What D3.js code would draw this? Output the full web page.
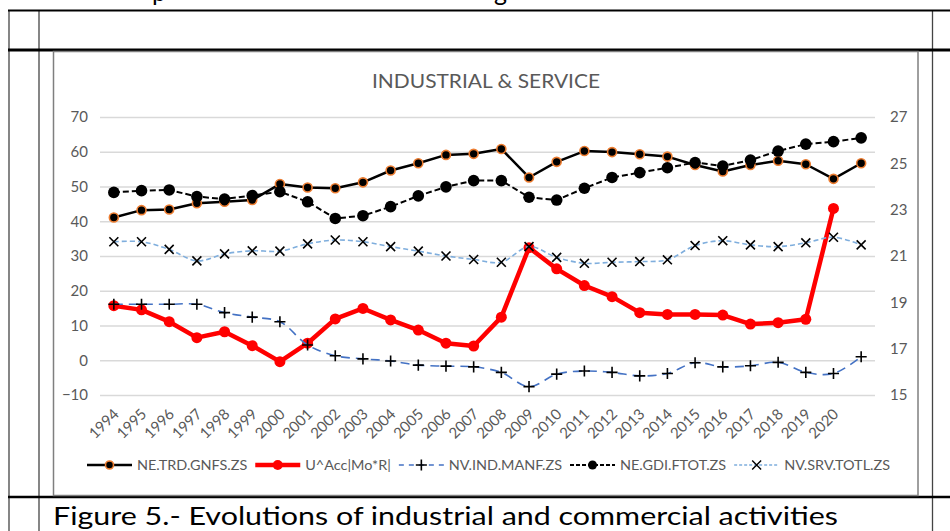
<!DOCTYPE html>
<html>
<head>
<meta charset="utf-8">
<script src="https://cdn.jsdelivr.net/npm/d3@7"></script>
<style>
  html, body { margin: 0; padding: 0; background: #fff; }
  svg { display: block; }
  text { font-family: Lato, "Open Sans", sans-serif; }
</style>
</head>
<body>
<svg id="chart" width="950" height="531"></svg>
<script>
// ---------- data ----------
const categories = ["1994","1995","1996","1997","1998","1999","2000","2001","2002","2003",
  "2004","2005","2006","2007","2008","2009","2010","2011","2012","2013","2014","2015",
  "2016","2017","2018","2019","2020",""];

const trdGnfs = [41.1,43.2,43.4,45.2,45.6,46.1,50.7,49.7,49.5,51.2,54.6,56.7,59.1,59.4,60.8,
  52.6,57.1,60.2,59.9,59.3,58.6,56.2,54.3,56.2,57.4,56.4,52.2,56.7];
const uAcc = [15.7,14.5,11.1,6.5,8.2,4.2,-0.4,4.9,11.9,14.9,11.6,8.7,4.9,4.1,12.4,
  32.4,26.3,21.5,18.3,13.7,13.2,13.2,13.0,10.4,10.8,11.8,43.7,null];
const indManf = [16.1,16.1,16.1,16.1,13.7,12.4,11.1,4.4,1.3,0.4,-0.2,-1.4,-1.7,-1.9,-3.5,
  -7.6,-4.0,-3.1,-3.5,-4.5,-3.8,-0.7,-1.9,-1.6,-0.6,-3.5,-3.8,1.0];
const gdiFtot = [48.3,48.8,49.0,47.1,46.4,47.4,48.5,45.6,40.8,41.6,44.2,47.3,49.9,51.7,51.7,
  46.9,46.1,49.5,52.6,54.0,55.4,56.9,55.9,57.6,60.2,62.2,62.9,64.0];
const srvTotl = [34.1,34.1,31.9,28.6,30.6,31.5,31.4,33.5,34.6,34.1,32.7,31.4,30.0,29.0,28.2,
  32.7,29.6,27.9,28.2,28.4,28.9,33.0,34.4,33.2,32.7,33.8,35.4,33.2];

const leftTicks = [-10,0,10,20,30,40,50,60,70];
const rightTicks = [15,17,19,21,23,25,27];
const seriesNames = ["NE.TRD.GNFS.ZS","U^Acc|Mo*R|","NV.IND.MANF.ZS","NE.GDI.FTOT.ZS","NV.SRV.TOTL.ZS"];
const chartTitle = "INDUSTRIAL & SERVICE";
const caption = "Figure 5.- Evolutions of industrial and commercial activities";

// ---------- layout ----------
const svg = d3.select("#chart");
const W = 950, H = 531;
const plot = {left: 100, right: 875, top: 117, bottom: 395};
const textColor = "#595959";

// page table lines
const tbl = svg.append("g");
[[9, 10, 9, H], [39, 10, 39, H], [932.5, 10, 932.5, H]].forEach(l =>
  tbl.append("line").attr("x1", l[0]).attr("y1", l[1]).attr("x2", l[2]).attr("y2", l[3])
    .attr("stroke", "#444").attr("stroke-width", 1.3));
tbl.append("line").attr("x1", 8).attr("x2", W).attr("y1", 10.5).attr("y2", 10.5)
  .attr("stroke", "#000").attr("stroke-width", 2);
tbl.append("line").attr("x1", 8).attr("x2", W).attr("y1", 50).attr("y2", 50)
  .attr("stroke", "#000").attr("stroke-width", 3);
tbl.append("line").attr("x1", 8).attr("x2", W).attr("y1", 497).attr("y2", 497)
  .attr("stroke", "#000").attr("stroke-width", 2.5);

// partial text of the previous line, cut by the top edge (as in the reference)
svg.append("text").attr("x", 152).attr("y", 1).attr("font-size", 25).attr("fill", "#000").text("p");
svg.append("text").attr("x", 494).attr("y", 1).attr("font-size", 25).attr("fill", "#000").text("g");

// chart box
svg.append("rect").attr("x", 53.5).attr("y", 51.5).attr("width", 864.5).attr("height", 444)
  .attr("fill", "#fff").attr("stroke", "#7f7f7f").attr("stroke-width", 1.5);

// caption
svg.append("text").attr("x", 53).attr("y", 525).attr("font-size", 25)
  .attr("fill", "#000").attr("textLength", 785).attr("lengthAdjust", "spacingAndGlyphs").text(caption);

// title
svg.append("text").attr("x", 486).attr("y", 88).attr("text-anchor", "middle")
  .attr("font-size", 19).attr("fill", textColor)
  .attr("textLength", 228).attr("lengthAdjust", "spacingAndGlyphs").text(chartTitle);

// ---------- scales ----------
const x = d3.scaleBand().domain(categories).range([plot.left, plot.right]).padding(0);
const cx = (i) => x(categories[i]) + x.bandwidth() / 2;
const y = d3.scaleLinear().domain([-10, 70]).range([plot.bottom, plot.top]);
const y2 = d3.scaleLinear().domain([15, 27]).range([plot.bottom, plot.top]);

// gridlines + left axis
const gLeft = svg.append("g").attr("transform", `translate(${plot.left},0)`)
  .call(d3.axisLeft(y).tickValues(leftTicks).tickSize(-(plot.right - plot.left)).tickPadding(12));
gLeft.select(".domain").remove();
gLeft.selectAll(".tick line").attr("stroke", "#d9d9d9").attr("stroke-width", 1.5);
gLeft.selectAll(".tick text").attr("fill", textColor).attr("font-size", 15)
  .attr("font-family", "Lato, sans-serif");

// right axis
const gRight = svg.append("g").attr("transform", `translate(${plot.right},0)`)
  .call(d3.axisRight(y2).tickValues(rightTicks).tickSize(0).tickPadding(15));
gRight.select(".domain").remove();
gRight.selectAll(".tick text").attr("fill", textColor).attr("font-size", 15)
  .attr("font-family", "Lato, sans-serif");

// bottom axis (rotated labels)
const gX = svg.append("g").attr("transform", `translate(0,${plot.bottom})`)
  .call(d3.axisBottom(x).tickSize(0).tickFormat(d => d));
gX.select(".domain").remove();
gX.selectAll(".tick text")
  .attr("fill", textColor).attr("font-size", 15).attr("font-family", "Lato, sans-serif")
  .attr("text-anchor", "end").attr("dy", 0).attr("y", 0)
  .attr("transform", "translate(6,20) rotate(-45)");

// ---------- series ----------
const idx = d3.range(categories.length);
const mkLine = (vals, curve) => d3.line()
  .defined(i => vals[i] !== null && vals[i] !== undefined)
  .x(i => cx(i)).y(i => y(vals[i])).curve(curve || d3.curveLinear);

const plusSym = d3.symbol().type(d3.symbolPlus).size(42);
const timesSym = d3.symbol().type(d3.symbolTimes).size(54);

// 1. NE.TRD.GNFS.ZS
svg.append("path").attr("d", mkLine(trdGnfs)(idx)).attr("fill", "none")
  .attr("stroke", "#000").attr("stroke-width", 2.5).attr("stroke-linejoin", "round");
svg.append("g").selectAll("circle").data(idx).join("circle")
  .attr("cx", i => cx(i)).attr("cy", i => y(trdGnfs[i])).attr("r", 4.5)
  .attr("fill", "#000").attr("stroke", "#ED7D31").attr("stroke-width", 1.6);

// 2. U^Acc|Mo*R|
const redIdx = idx.filter(i => uAcc[i] !== null);
svg.append("path").attr("d", mkLine(uAcc)(idx)).attr("fill", "none")
  .attr("stroke", "#FF0000").attr("stroke-width", 4.5).attr("stroke-linejoin", "round");
svg.append("g").selectAll("circle").data(redIdx).join("circle")
  .attr("cx", i => cx(i)).attr("cy", i => y(uAcc[i])).attr("r", 5.5).attr("fill", "#FF0000");

// 3. NV.IND.MANF.ZS
svg.append("path").attr("d", mkLine(indManf, d3.curveCatmullRom)(idx)).attr("fill", "none")
  .attr("stroke", "#4472C4").attr("stroke-width", 1.6).attr("stroke-dasharray", "9,6");
svg.append("g").selectAll("path").data(idx).join("path")
  .attr("transform", i => `translate(${cx(i)},${y(indManf[i])})`).attr("d", plusSym)
  .attr("fill", "none").attr("stroke", "#000").attr("stroke-width", 1.6);

// 4. NE.GDI.FTOT.ZS
svg.append("path").attr("d", mkLine(gdiFtot)(idx)).attr("fill", "none")
  .attr("stroke", "#000").attr("stroke-width", 2).attr("stroke-dasharray", "6,3");
svg.append("g").selectAll("circle").data(idx).join("circle")
  .attr("cx", i => cx(i)).attr("cy", i => y(gdiFtot[i])).attr("r", 5.8).attr("fill", "#000");

// 5. NV.SRV.TOTL.ZS
svg.append("path").attr("d", mkLine(srvTotl, d3.curveCatmullRom)(idx)).attr("fill", "none")
  .attr("stroke", "#7FAEDD").attr("stroke-width", 1.6).attr("stroke-dasharray", "5,3");
svg.append("g").selectAll("path").data(idx).join("path")
  .attr("transform", i => `translate(${cx(i)},${y(srvTotl[i])})`).attr("d", timesSym)
  .attr("fill", "none").attr("stroke", "#000").attr("stroke-width", 1.6);

// ---------- legend ----------
const legY = 465, legStart = 87, legEnd = 890, swatchW = 45, swatchGap = 5, itemGap = 8;
const legStyles = [
  {stroke: "#000", w: 2.5, dash: null, mark: "trd"},
  {stroke: "#FF0000", w: 4.5, dash: null, mark: "red"},
  {stroke: "#4472C4", w: 1.6, dash: "5,5", mark: "plus"},
  {stroke: "#000", w: 2, dash: "4,2", mark: "gdi"},
  {stroke: "#7FAEDD", w: 1.6, dash: "3,2", mark: "times"}
];
const lg = svg.append("g");
const texts = seriesNames.map(n => lg.append("text").attr("y", legY + 4.5).attr("font-size", 14)
  .attr("fill", textColor).text(n));
const widths = texts.map(t => t.node().getComputedTextLength());
const availText = (legEnd - legStart) - seriesNames.length * (swatchW + swatchGap) - (seriesNames.length - 1) * itemGap;
const kFit = availText / d3.sum(widths);
let cur = legStart;
legStyles.forEach((st, k) => {
  const x1 = cur, x2 = cur + swatchW, mx = (x1 + x2) / 2;
  const ln = lg.append("line").attr("x1", x1).attr("x2", x2).attr("y1", legY).attr("y2", legY)
    .attr("stroke", st.stroke).attr("stroke-width", st.w);
  if (st.dash) ln.attr("stroke-dasharray", st.dash);
  if (st.mark === "trd") lg.append("circle").attr("cx", mx).attr("cy", legY).attr("r", 4)
    .attr("fill", "#000").attr("stroke", "#ED7D31").attr("stroke-width", 1.6);
  if (st.mark === "red") lg.append("circle").attr("cx", mx).attr("cy", legY).attr("r", 5).attr("fill", "#FF0000");
  if (st.mark === "gdi") lg.append("circle").attr("cx", mx).attr("cy", legY).attr("r", 4.5).attr("fill", "#000");
  if (st.mark === "plus") lg.append("path").attr("transform", `translate(${mx},${legY})`).attr("d", plusSym)
    .attr("fill", "none").attr("stroke", "#000").attr("stroke-width", 1.6);
  if (st.mark === "times") lg.append("path").attr("transform", `translate(${mx},${legY})`).attr("d", timesSym)
    .attr("fill", "none").attr("stroke", "#000").attr("stroke-width", 1.4);
  const tw = widths[k] * kFit;
  texts[k].attr("x", x2 + swatchGap).attr("textLength", tw).attr("lengthAdjust", "spacingAndGlyphs");
  cur = x2 + swatchGap + tw + itemGap;
});
</script>
</body>
</html>
